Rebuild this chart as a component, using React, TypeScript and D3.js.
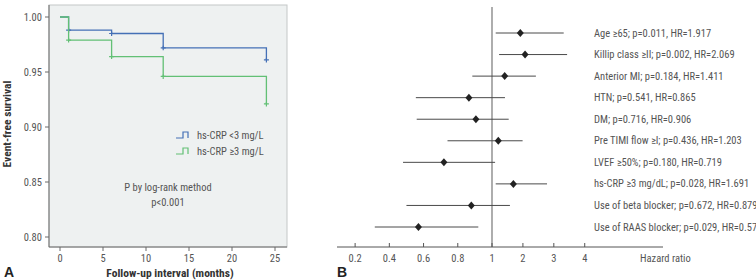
import React from "react";
import * as d3 from "d3";

// Panel A: Kaplan-Meier event-free survival by hs-CRP group
const kmTimes = [0, 1, 6, 12, 24];
const survLow = [1.0, 0.988, 0.985, 0.972, 0.961];
const survHigh = [1.0, 0.979, 0.964, 0.946, 0.921];
const xTicksA = [0, 5, 10, 15, 20, 25];
const yTicksA = [0.8, 0.85, 0.9, 0.95, 1.0];
const legendLabels = ["hs-CRP <3 mg/L", "hs-CRP \u22653 mg/L"];

// Panel B: Cox regression hazard ratios
const factors = [
  "Age \u226565",
  "Killip class \u2265II",
  "Anterior MI",
  "HTN",
  "DM",
  "Pre TIMI flow \u2265I",
  "LVEF \u226550%",
  "hs-CRP \u22653 mg/dL",
  "Use of beta blocker",
  "Use of RAAS blocker",
];
const pValues = ["0.011", "0.002", "0.184", "0.541", "0.716", "0.436", "0.180", "0.028", "0.672", "0.029"];
const hazardRatios = [1.917, 2.069, 1.411, 0.865, 0.906, 1.203, 0.719, 1.691, 0.879, 0.57];
const hrLabels = ["1.917", "2.069", "1.411", "0.865", "0.906", "1.203", "0.719", "1.691", "0.879", "0.57"];
const ciLow = [1.12, 1.23, 0.885, 0.555, 0.56, 0.74, 0.48, 1.12, 0.5, 0.315];
const ciHigh = [3.32, 3.43, 2.42, 1.42, 1.54, 1.99, 1.1, 2.78, 1.58, 0.92];
const hrTicks = [0.2, 0.4, 0.6, 0.8, 1, 2, 3, 4];

const FONT = "'Liberation Sans Narrow', 'Roboto Condensed', 'Noto Sans', sans-serif";
const BLUE = "#4470b6";
const GREEN = "#62c075";

export default function App() {
  // Panel A scales
  const x = d3.scaleLinear().domain([0, 25]).range([60, 275]);
  const y = d3.scaleLinear().domain([0.8, 1.0]).range([237, 17]);
  const box = { left: 49, right: 287, top: 5, bottom: 247 };

  const stepPath = (surv: number[]) => {
    const pts: [number, number][] = surv.map((s, i) => [kmTimes[i], s]);
    const line = d3
      .line<[number, number]>()
      .x((d) => x(d[0]))
      .y((d) => y(d[1]))
      .curve(d3.curveStepAfter);
    return line(pts);
  };

  const censorMarks = (surv: number[]) =>
    surv.slice(1).map((s, i) => ({ cx: x(kmTimes[i + 1]), cy: y(s) }));

  // Panel B scales
  const hx = d3.scaleLinear().domain([0.1, 1, 6.5]).range([338, 492, 662]);
  const rowY = d3.scalePoint<string>().domain(factors).range([33, 227]);
  const axisY = 247;

  const series = [
    { surv: survLow, color: BLUE },
    { surv: survHigh, color: GREEN },
  ];

  return (
    <svg
      width={756}
      height={280}
      style={{ position: "absolute", left: 0, top: 0, background: "#fff" }}
      fontFamily={FONT}
    >
      {/* Panel A frame */}
      <rect
        x={box.left}
        y={box.top}
        width={box.right - box.left}
        height={box.bottom - box.top}
        fill="#eef1f1"
        stroke="#c4c7c7"
        strokeWidth={1}
      />
      <line x1={box.left} x2={box.left} y1={box.top} y2={box.bottom} stroke="#6a6a6a" />
      <line x1={box.left} x2={box.right} y1={box.bottom} y2={box.bottom} stroke="#6a6a6a" />

      {yTicksA.map((t) => (
        <g key={t}>
          <line x1={box.left - 4} x2={box.left} y1={y(t)} y2={y(t)} stroke="#6a6a6a" />
          <text x={box.left - 7} y={y(t) + 3.5} textAnchor="end" fontSize={10.5} fill="#555">
            {t.toFixed(2)}
          </text>
        </g>
      ))}
      {xTicksA.map((t) => (
        <g key={t}>
          <line x1={x(t)} x2={x(t)} y1={box.bottom} y2={box.bottom + 4} stroke="#6a6a6a" />
          <text x={x(t)} y={box.bottom + 15} textAnchor="middle" fontSize={10.5} fill="#555">
            {t}
          </text>
        </g>
      ))}

      {series.map((s, i) => (
        <g key={i}>
          <path d={stepPath(s.surv) ?? ""} fill="none" stroke={s.color} strokeWidth={1.3} />
          {censorMarks(s.surv).map((m, j) => (
            <path
              key={j}
              d={`M${m.cx - 2.5},${m.cy}H${m.cx + 2.5}M${m.cx},${m.cy - 2}V${m.cy + 2.5}`}
              stroke={s.color}
              strokeWidth={1.2}
            />
          ))}
        </g>
      ))}

      {/* Legend */}
      {legendLabels.map((lab, i) => {
        const ly = 138 + i * 16;
        const c = i === 0 ? BLUE : GREEN;
        return (
          <g key={lab}>
            <path
              d={`M176,${ly}H183V${ly - 6}H188V${ly}`}
              fill="none"
              stroke={c}
              strokeWidth={1.2}
            />
            <text x={197} y={ly + 0.5} fontSize={10.5} fill="#555">
              {lab}
            </text>
          </g>
        );
      })}

      <text x={168} y={191} textAnchor="middle" fontSize={10.5} fill="#555">
        P by log-rank method
      </text>
      <text x={168} y={206} textAnchor="middle" fontSize={10.5} fill="#555">
        p&lt;0.001
      </text>

      <text
        transform="translate(11,124) rotate(-90)"
        textAnchor="middle"
        fontSize={11.5}
        fontWeight="bold"
        fill="#333"
      >
        Event-free survival
      </text>
      <text x={170} y={277} textAnchor="middle" fontSize={11.5} fontWeight="bold" fill="#333">
        Follow-up interval (months)
      </text>
      <text x={4} y={277} fontSize={14} fontWeight="bold" fill="#222" fontFamily="'Liberation Sans', sans-serif">
        A
      </text>

      {/* Panel B forest plot */}
      <line x1={hx(1)} x2={hx(1)} y1={7} y2={axisY} stroke="#777" strokeWidth={1.2} />
      <line x1={337} x2={663} y1={axisY} y2={axisY} stroke="#555" />
      {hrTicks.map((t) => (
        <g key={t}>
          <line x1={hx(t)} x2={hx(t)} y1={axisY - 4} y2={axisY} stroke="#555" />
          <text x={hx(t)} y={axisY + 15} textAnchor="middle" fontSize={10.5} fill="#555">
            {t}
          </text>
        </g>
      ))}
      <text x={640} y={axisY + 15} fontSize={10.5} fill="#555">
        Hazard ratio
      </text>

      {factors.map((f, i) => {
        const cy = rowY(f) ?? 0;
        const cx = hx(hazardRatios[i]);
        return (
          <g key={f}>
            <line x1={hx(ciLow[i])} x2={hx(ciHigh[i])} y1={cy} y2={cy} stroke="#4a4a4a" strokeWidth={1} />
            <path d={`M${cx},${cy - 4}L${cx + 3.5},${cy}L${cx},${cy + 4}L${cx - 3.5},${cy}Z`} fill="#222" />
            <text x={594} y={cy + 3.5} fontSize={10.5} fill="#555">
              {`${f}; p=${pValues[i]}, HR=${hrLabels[i]}`}
            </text>
          </g>
        );
      })}
      <text x={337} y={277} fontSize={14} fontWeight="bold" fill="#222" fontFamily="'Liberation Sans', sans-serif">
        B
      </text>
    </svg>
  );
}
